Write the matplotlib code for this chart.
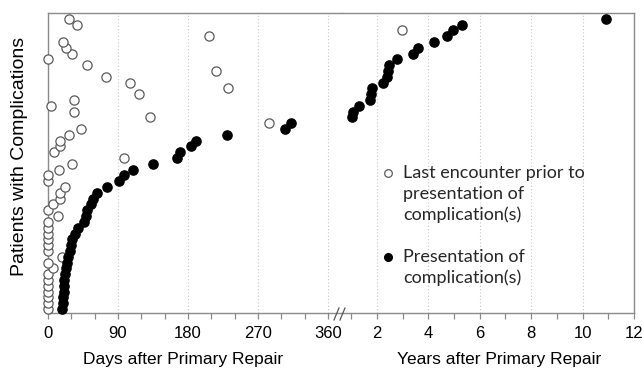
import numpy as np
import matplotlib.pyplot as plt
from matplotlib.lines import Line2D

# Rows are patients (0 = bottom), one open circle and one filled dot each
rows_all = np.arange(51)

# Last encounter before the complication (days), row 48 is in years
open_days = [0, 0, 0, 0, 0, 0, 0, 7, 0, 18,
             0, 0, 0, 0, 0, 0, 13, 0, 7, 15,
             15, 22, 0, 0, 14, 31, 98, 8, 16, 15,
             27, 42, 284, 131, 33, 4, 33, 117, 232, 106,
             75, 216, 50, 0, 31, 23, 19, 207, 37, 27]
open_day_rows = [r for r in range(51) if r != 48]
open_years = [2.96]
open_year_rows = [48]

# Presentation of complication: rows 0-32 in days, rows 33-50 in years
filled_days = [18, 19, 19, 20, 21, 21, 22, 23, 24, 26,
               28, 30, 31, 35, 39, 46, 49, 50, 55, 58,
               63, 76, 91, 98, 109, 135, 166, 170, 184, 190,
               230, 305, 312]
filled_years = [1.03, 1.07, 1.30, 1.73, 1.77, 1.81, 2.23, 2.39, 2.43, 2.47,
                2.78, 3.40, 3.59, 4.21, 4.72, 4.95, 5.30, 10.9]
filled_day_rows = rows_all[:33]
filled_year_rows = rows_all[33:]

day_ticks = [0, 90, 180, 270, 360]
year_ticks = [2, 4, 6, 8, 10, 12]

W, H = 642, 368
def fx(px):
    return px / W
def fy(py):
    return 1 - py / H

plt.rcParams['font.family'] = ['Liberation Sans', 'DejaVu Sans']

fig = plt.figure(figsize=(W / 100, H / 100), dpi=100)
axL = fig.add_axes([fx(48), fy(313), 294 / W, 300 / H])
axR = fig.add_axes([fx(342), fy(313), 292 / W, 300 / H], sharey=axL)

spine_col = '#8a8a8a'
open_kw = dict(s=44, facecolors='white', edgecolors='#5a5a5a', linewidths=0.9, clip_on=False, zorder=3)
fill_kw = dict(s=44, color='black', clip_on=False, zorder=4)

axL.scatter(open_days, open_day_rows, **open_kw)
axL.scatter(filled_days, filled_day_rows, **fill_kw)
axR.scatter(open_years, open_year_rows, **open_kw)
axR.scatter(filled_years, filled_year_rows, **fill_kw)

axL.set_xlim(0, 378)
axR.set_xlim(0.64, 12)
axL.set_ylim(-0.7, 51.0)

axL.set_xticks(day_ticks)
axL.set_xticks(np.arange(30, 378, 30), minor=True)
axR.set_xticks(year_ticks)
axR.set_xticks(np.arange(1, 12, 1), minor=True)

for ax in (axL, axR):
    for sp in ax.spines.values():
        sp.set_color(spine_col)
        sp.set_linewidth(1.0)
    ax.tick_params(axis='x', which='both', direction='out', length=4, width=0.9,
                   color=spine_col, labelsize=12, pad=5)
    ax.tick_params(axis='y', left=False, labelleft=False, right=False)
    ax.grid(axis='x', which='major', linestyle=(0, (1, 2)), color='#c8c8c8', linewidth=0.8)
    ax.set_axisbelow(True)

axL.spines['right'].set_visible(False)
axR.spines['left'].set_visible(False)

# break marks on the bottom axis
for x0 in (336.5, 342.5):
    fig.add_artist(Line2D([fx(x0 - 2.5), fx(x0 + 2.5)], [fy(320), fy(308)],
                          color='#555555', lw=0.9, transform=fig.transFigure))

fig.text(fx(183), fy(364), 'Days after Primary Repair', ha='center', va='baseline', fontsize=12.5)
fig.text(fx(499), fy(364), 'Years after Primary Repair', ha='center', va='baseline', fontsize=12.5)
fig.text(fx(20), fy(156), 'Patients with Complications', ha='center', va='center',
         rotation=90, fontsize=14)

# legend drawn by hand so the marker sits on the first line
leg_font = ['Lato', 'DejaVu Sans']
fig.add_artist(Line2D([fx(388)], [fy(173)], marker='o', ms=5.5, mfc='white', mec='#5a5a5a',
                      mew=0.9, transform=fig.transFigure))
fig.add_artist(Line2D([fx(388)], [fy(257)], marker='o', ms=5.5, mfc='black', mec='black',
                      transform=fig.transFigure))
for txt, py in [('Last encounter prior to', 173), ('presentation of', 194), ('complication(s)', 215),
                ('Presentation of', 257), ('complication(s)', 278)]:
    fig.text(fx(403), fy(py), txt, ha='left', va='center', fontsize=13,
             color='#262626', family=leg_font)

fig.savefig('out.png', dpi=100)
